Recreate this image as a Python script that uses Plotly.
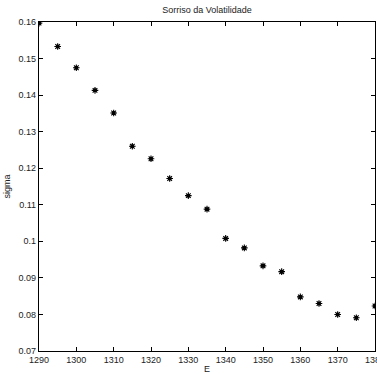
import plotly.graph_objects as go

# Strike prices and implied volatilities
strike = [1290, 1295, 1300, 1305, 1310, 1315, 1320, 1325, 1330, 1335,
          1340, 1345, 1350, 1355, 1360, 1365, 1370, 1375, 1380]
sigma = [0.1597, 0.1533, 0.1475, 0.1413, 0.1351, 0.1260, 0.1226, 0.1172,
         0.1125, 0.1088, 0.1008, 0.0982, 0.0933, 0.0917, 0.0848, 0.0830,
         0.0800, 0.0791, 0.0823]

x_ticks = [1290, 1300, 1310, 1320, 1330, 1340, 1350, 1360, 1370, 1380]
y_ticks = [0.07, 0.08, 0.09, 0.1, 0.11, 0.12, 0.13, 0.14, 0.15, 0.16]
y_ticktext = ["0.07", "0.08", "0.09", "0.1", "0.11", "0.12", "0.13", "0.14", "0.15", "0.16"]

font = dict(family="Liberation Sans, Arial, sans-serif", size=9, color="#222222")

fig = go.Figure()
fig.add_trace(go.Scatter(
    x=strike, y=sigma, mode="markers",
    marker=dict(symbol="circle", size=4, color="black", line=dict(width=0)),
    hoverinfo="skip", showlegend=False,
))
fig.add_trace(go.Scatter(
    x=strike, y=sigma, mode="markers",
    marker=dict(symbol="asterisk-open", size=5.5, color="black", line=dict(width=1.1, color="black")),
    showlegend=False,
))

axis_common = dict(
    showgrid=False, zeroline=False, showline=True, linecolor="black", linewidth=1.2,
    mirror="ticks", ticks="inside", ticklen=4, tickwidth=1, tickcolor="black",
    tickfont=font, ticklabeloverflow="allow", automargin=False,
)

fig.update_layout(
    width=377, height=374,
    margin=dict(l=39, r=1.5, t=22, b=23),
    paper_bgcolor="white", plot_bgcolor="white",
    font=font,
    title=dict(text="Sorriso da Volatilidade", x=0.549, xanchor="center",
               y=0.975, yanchor="middle", font=dict(family=font["family"], size=9, color="#222222")),
    xaxis=dict(range=[1290, 1380], tickvals=x_ticks, **axis_common,
               title=dict(text="E", font=font, standoff=3)),
    yaxis=dict(range=[0.07, 0.16], tickvals=y_ticks, ticktext=y_ticktext, **axis_common,
               title=dict(text="sigma", font=font, standoff=6)),
)

fig.write_html("out.html")
